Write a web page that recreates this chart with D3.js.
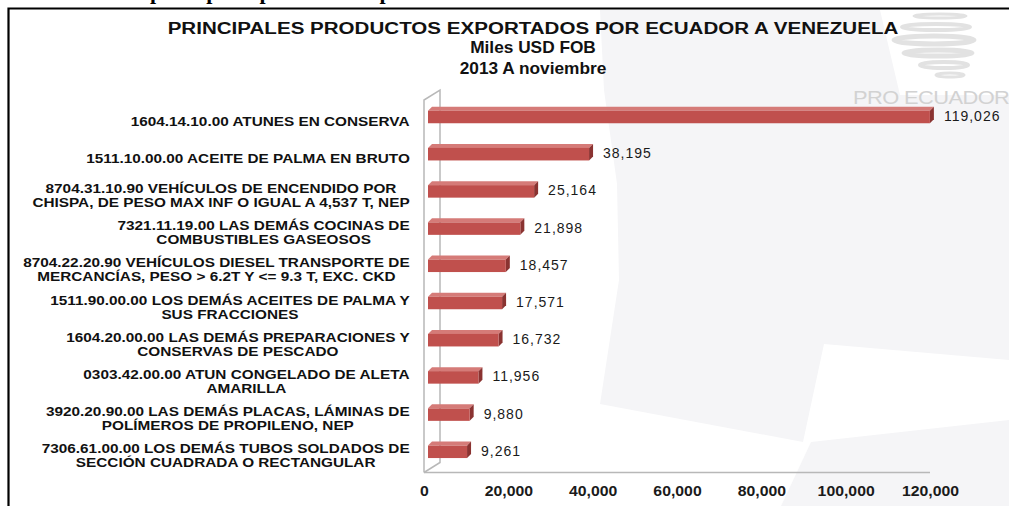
<!DOCTYPE html>
<html>
<head>
<meta charset="utf-8">
<script src="https://cdn.jsdelivr.net/npm/d3@7"></script>
<style>
  html, body { margin: 0; padding: 0; background: #fff; overflow: hidden; }
  svg { display: block; font-family: "Liberation Sans", Arial, sans-serif; }
</style>
</head>
<body>
<div id="chart"></div>
<script>
// Data
var categories = [
    "1604.14.10.00 ATUNES EN CONSERVA",
    "1511.10.00.00 ACEITE DE PALMA EN BRUTO",
    "8704.31.10.90 VEHÍCULOS DE ENCENDIDO POR\nCHISPA, DE PESO MAX INF O IGUAL A 4,537 T, NEP",
    "7321.11.19.00 LAS DEMÁS COCINAS DE\nCOMBUSTIBLES GASEOSOS",
    "8704.22.20.90 VEHÍCULOS DIESEL TRANSPORTE  DE\nMERCANCÍAS, PESO > 6.2T Y <= 9.3 T, EXC. CKD",
    "1511.90.00.00 LOS DEMÁS ACEITES DE PALMA Y\nSUS FRACCIONES",
    "1604.20.00.00 LAS DEMÁS PREPARACIONES  Y\nCONSERVAS DE PESCADO",
    "0303.42.00.00 ATUN CONGELADO DE ALETA\nAMARILLA",
    "3920.20.90.00 LAS DEMÁS PLACAS, LÁMINAS DE\nPOLÍMEROS DE PROPILENO, NEP",
    "7306.61.00.00 LOS DEMÁS TUBOS SOLDADOS DE\nSECCIÓN CUADRADA O RECTANGULAR"
];
var values = [119026, 38195, 25164, 21898, 18457, 17571, 16732, 11956, 9880, 9261];
var xTicks = [0, 20000, 40000, 60000, 80000, 100000, 120000];
var titleLines = ["PRINCIPALES PRODUCTOS EXPORTADOS POR ECUADOR A VENEZUELA", "Miles USD FOB", "2013 A noviembre"];

var W = 1009, H = 506,
    depth = {x: 16, y: 10},   // 3D wall depth
    barShift = {x: 4, y: 4},  // bars sit a bit inside the depth
    fmt = d3.format(",");

var svg = d3.select("#chart").append("svg")
    .attr("width", W)
    .attr("height", H);

// Background watermark shapes
svg.append("rect").attr("width", W).attr("height", H).attr("fill", "#fff");
var bg = svg.append("g").attr("fill", "#f5f5f7");
bg.append("polygon").attr("points", "600,10 880,10 900,95 1009,95 1009,360 824,344 803,442 600,404 619,280 617,184 604,90");
bg.append("polygon").attr("points", "811,442 1009,420 1009,506 781,506");

// Logo swirl + PRO ECUADOR
var logo = svg.append("g").attr("fill", "none").attr("stroke", "#e2e2e2").attr("stroke-linecap", "round");
[[940, 16, 26, 2, 3], [936, 27, 34, 3, 4], [934, 40, 40, 4, 5], [938, 53, 34, 3, 5], [944, 65, 24, 3, 4], [950, 75, 14, 2, 3]].forEach(function(e) {
    logo.append("ellipse").attr("cx", e[0]).attr("cy", e[1]).attr("rx", e[2]).attr("ry", e[3]).attr("stroke-width", e[4]);
});
svg.append("text")
    .attr("transform", "translate(853,104) scale(1.15,1)")
    .attr("fill", "#d2d2d2")
    .style("font-size", "19px")
    .style("letter-spacing", "-0.5px")
    .text("PRO ECUADOR");

// Cut-off heading above frame
svg.append("text")
    .attr("x", 150).attr("y", -1)
    .style("font-family", "'Liberation Serif', serif")
    .style("font-weight", "bold")
    .style("font-size", "22px")
    .attr("fill", "#000")
    .text("principales productos exportados");

// Frame
svg.append("path")
    .attr("d", "M8.5,520 L8.5,8.5 L1020,8.5")
    .attr("fill", "none")
    .attr("stroke", "#000")
    .attr("stroke-width", 2.2);

// Scales
var x = d3.scaleLinear().domain([0, 120000]).range([424, 930]);
var y = d3.scaleBand().domain(categories).range([102.4, 474.4]).padding(0);
var floorY = 472.5, wallTop = 100;

// Walls
var wall = svg.append("g").attr("fill", "none").attr("stroke", "#b8b8b8").attr("stroke-width", 1.5);
wall.append("path").attr("d",
    "M" + x(0) + "," + floorY + "V" + wallTop +
    "l" + depth.x + "," + (-depth.y) +
    "V" + (floorY - depth.y) +
    "L" + x(0) + "," + floorY);
wall.append("line")
    .attr("x1", x(0)).attr("x2", x(120000))
    .attr("y1", floorY).attr("y2", floorY);

// Bars (3D boxes)
var bh = 12.5;
var bars = svg.selectAll(".bar")
    .data(values)
    .enter().append("g")
    .attr("class", "bar")
    .attr("transform", function(d, i) {
        return "translate(0," + (y(categories[i]) + y.bandwidth() / 2 - barShift.y) + ")";
    });
bars.append("polygon")   // top face
    .attr("fill", "#d57b78")
    .attr("points", function(d) {
        var x0 = x(0) + barShift.x, x1 = x(d) + barShift.x;
        return [[x0, -bh / 2], [x1, -bh / 2], [x1 + 4, -bh / 2 - 4], [x0 + 4, -bh / 2 - 4]].join(" ");
    });
bars.append("polygon")   // side face
    .attr("fill", "#8a3331")
    .attr("points", function(d) {
        var x1 = x(d) + barShift.x;
        return [[x1, -bh / 2], [x1 + 4, -bh / 2 - 4], [x1 + 4, bh / 2 - 4], [x1, bh / 2]].join(" ");
    });
bars.append("rect")      // front face
    .attr("fill", "#c0504d")
    .attr("x", x(0) + barShift.x)
    .attr("y", -bh / 2)
    .attr("width", function(d) { return x(d) - x(0); })
    .attr("height", bh);
bars.append("text")
    .attr("x", function(d) { return x(d) + barShift.x + 14; })
    .attr("y", -1)
    .attr("dy", "0.35em")
    .attr("fill", "#1a1a1a")
    .style("font-size", "14px")
    .style("letter-spacing", "1px")
    .text(function(d) { return fmt(d); });

// Category labels, centred lines, block right edge at 410
var catScale = 1.18;
var labels = svg.selectAll(".cat")
    .data(categories)
    .enter().append("g")
    .attr("class", "cat")
    .attr("transform", function(d) { return "translate(0," + (y(d) + y.bandwidth() / 2) + ")"; });
labels.each(function(d) {
    var g = d3.select(this), lines = d.split("\n");
    var t = g.append("text")
        .attr("text-anchor", "middle")
        .attr("fill", "#111")
        .style("font-size", "13px")
        .style("font-weight", "bold");
    lines.forEach(function(l, k) {
        t.append("tspan")
            .attr("x", 0)
            .attr("y", (k - (lines.length - 1) / 2) * 14)
            .attr("dy", "0.35em")
            .text(l);
    });
    var w = t.node().getBBox().width * catScale;
    t.attr("transform", "translate(" + (410 - w / 2) + ",0) scale(" + catScale + ",1)");
});

// X axis labels
var xAxis = d3.axisBottom(x)
    .tickValues(xTicks)
    .tickSize(0)
    .tickPadding(0)
    .tickFormat(fmt);
var ax = svg.append("g")
    .attr("transform", "translate(0," + (floorY + 14) + ")")
    .call(xAxis);
ax.select(".domain").remove();
ax.selectAll("text")
    .attr("fill", "#1a1a1a")
    .attr("transform", "scale(1.13,1)")
    .style("font-size", "14px")
    .style("font-weight", "bold")
    .style("font-family", "'Liberation Sans', Arial, sans-serif");

// Title
svg.selectAll(".title")
    .data(titleLines)
    .enter().append("text")
    .attr("class", "title")
    .attr("transform", function(d, i) {
        return "translate(533," + [28, 47, 68][i] + ") scale(" + (i === 0 ? 1.21 : 1.08) + ",1)";
    })
    .attr("dy", "0.35em")
    .attr("text-anchor", "middle")
    .attr("fill", "#111")
    .style("font-weight", "bold")
    .style("font-size", function(d, i) { return i === 0 ? "17px" : "16px"; })
    .text(function(d) { return d; });
</script>
</body>
</html>
